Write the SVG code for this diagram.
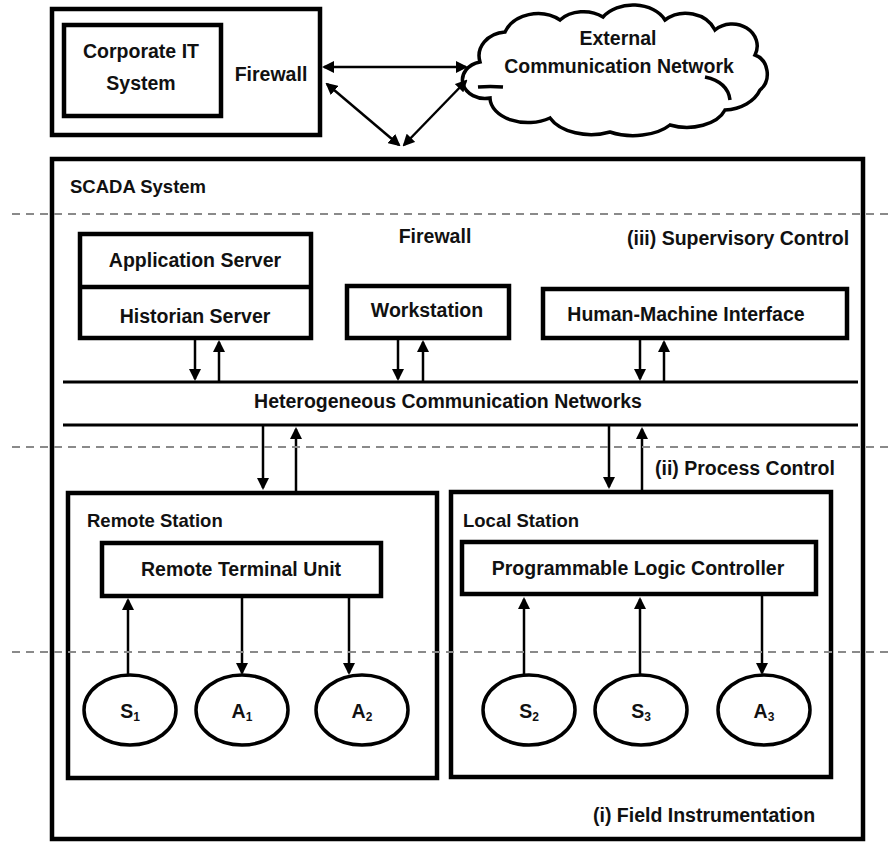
<svg xmlns="http://www.w3.org/2000/svg" width="891" height="843" viewBox="0 0 891 843">
<style>
.box{fill:#fff;stroke:#000;stroke-width:4.5}
.ell{fill:#fff;stroke:#000;stroke-width:3.5}
.ln{stroke:#000;stroke-width:2.5;fill:none}
.bus{stroke:#000;stroke-width:3;fill:none}
.dash{stroke:#8a8a8a;stroke-width:2;stroke-dasharray:8 6;fill:none}
text{font-family:"Liberation Sans",Arial,sans-serif;font-weight:bold;font-size:19.5px;fill:#111}
.c{text-anchor:middle}
</style>
<defs>
<marker id="ah" viewBox="0 0 12 12" refX="10" refY="6" markerWidth="12" markerHeight="12" markerUnits="userSpaceOnUse" orient="auto-start-reverse">
<path d="M0,0 L12,6 L0,12 z" fill="#000"/>
</marker>
</defs>
<rect width="891" height="843" fill="#fff"/>

<g id="corporate">
<rect class="box" x="52" y="9" width="268" height="126" style="fill:none"/>
<rect class="box" x="64" y="25" width="157" height="91"/>
<text class="c" x="141" y="58">Corporate IT</text>
<text class="c" x="141" y="90">System</text>
<text class="c" x="271" y="81">Firewall</text>
</g>

<g id="cloud">
<path d="M480,62 A28,24 0 0 1 505,32 A35,28 0 0 1 560,20 A30,22 0 0 1 603,17 A35,25 0 0 1 665,20 A32,28 0 0 1 715,30 A25,22 0 0 1 755,55 A18,20 0 0 1 760,90 A40,30 0 0 1 725,110 A40,25 0 0 1 670,125 A45,25 0 0 1 610,132 A45,28 0 0 1 550,118 A38,25 0 0 1 490,98 A22,18 0 0 1 480,62 Z" fill="#fff" stroke="#000" stroke-width="3.5"/>
<path d="M478,87 Q490,86 503,87" fill="none" stroke="#000" stroke-width="3.5"/>
<path d="M705,77 Q728,82 730,100" fill="none" stroke="#000" stroke-width="3.5"/>
<text class="c" x="618" y="45">External</text>
<text class="c" x="619" y="73">Communication Network</text>
</g>

<g id="scada">
<rect class="box" x="52" y="159" width="811" height="680" style="fill:none"/>
<text x="70" y="193" style="font-size:18.5px">SCADA System</text>
<text class="c" x="435" y="243">Firewall</text>
<text x="627" y="245">(iii) Supervisory Control</text>
<text x="655" y="475">(ii) Process Control</text>
<text x="593" y="822">(i) Field Instrumentation</text>
</g>

<g id="servers">
<rect class="box" x="80" y="234" width="231" height="104"/>
<line x1="80" y1="287" x2="311" y2="287" stroke="#000" stroke-width="4.5"/>
<text class="c" x="195" y="267">Application Server</text>
<text class="c" x="195" y="323">Historian Server</text>
</g>

<g id="workstation">
<rect class="box" x="347" y="286" width="162" height="52"/>
<text class="c" x="427" y="317">Workstation</text>
</g>

<g id="hmi">
<rect class="box" x="543" y="289" width="304" height="49"/>
<text class="c" x="686" y="321">Human-Machine Interface</text>
</g>

<g id="network">
<line class="bus" x1="63" y1="382" x2="858" y2="382"/>
<line class="bus" x1="63" y1="425" x2="858" y2="425"/>
<text class="c" x="448" y="408">Heterogeneous Communication Networks</text>
</g>

<g id="remote-station">
<rect class="box" x="68" y="493" width="369" height="285"/>
<text x="87" y="527" style="font-size:18.5px">Remote Station</text>
</g>
<g id="rtu">
<rect class="box" x="102" y="543" width="279" height="53"/>
<text class="c" x="241" y="576">Remote Terminal Unit</text>
</g>

<g id="local-station">
<rect class="box" x="451" y="492" width="380" height="285"/>
<text x="463" y="527" style="font-size:18.5px">Local Station</text>
</g>
<g id="plc">
<rect class="box" x="462" y="542" width="354" height="52"/>
<text class="c" x="638" y="575">Programmable Logic Controller</text>
</g>

<g id="s1"><ellipse class="ell" cx="130" cy="710" rx="46" ry="35"/><text class="c" x="130" y="718">S<tspan font-size="12" dy="3">1</tspan></text></g>
<g id="a1"><ellipse class="ell" cx="242" cy="710" rx="46" ry="35"/><text class="c" x="242" y="718">A<tspan font-size="12" dy="3">1</tspan></text></g>
<g id="a2"><ellipse class="ell" cx="362" cy="710" rx="46" ry="35"/><text class="c" x="362" y="718">A<tspan font-size="12" dy="3">2</tspan></text></g>
<g id="s2"><ellipse class="ell" cx="529" cy="710" rx="46" ry="35"/><text class="c" x="529" y="718">S<tspan font-size="12" dy="3">2</tspan></text></g>
<g id="s3"><ellipse class="ell" cx="641" cy="710" rx="46" ry="35"/><text class="c" x="641" y="718">S<tspan font-size="12" dy="3">3</tspan></text></g>
<g id="a3"><ellipse class="ell" cx="764" cy="710" rx="46" ry="35"/><text class="c" x="764" y="718">A<tspan font-size="12" dy="3">3</tspan></text></g>

<g id="connectors">
<line class="ln" x1="324" y1="67" x2="466" y2="67" marker-start="url(#ah)" marker-end="url(#ah)"/>
<line class="ln" x1="327" y1="84" x2="399" y2="145" marker-start="url(#ah)" marker-end="url(#ah)"/>
<line class="ln" x1="404" y1="145" x2="466" y2="81" marker-start="url(#ah)" marker-end="url(#ah)"/>

<line class="ln" x1="195" y1="340" x2="195" y2="379" marker-end="url(#ah)"/>
<line class="ln" x1="219" y1="381" x2="219" y2="342" marker-end="url(#ah)"/>
<line class="ln" x1="398" y1="340" x2="398" y2="379" marker-end="url(#ah)"/>
<line class="ln" x1="423" y1="381" x2="423" y2="342" marker-end="url(#ah)"/>
<line class="ln" x1="640" y1="340" x2="640" y2="379" marker-end="url(#ah)"/>
<line class="ln" x1="664" y1="381" x2="664" y2="342" marker-end="url(#ah)"/>

<line class="ln" x1="263" y1="426" x2="263" y2="488" marker-end="url(#ah)"/>
<line class="ln" x1="296" y1="491" x2="296" y2="429" marker-end="url(#ah)"/>
<line class="ln" x1="609" y1="426" x2="609" y2="487" marker-end="url(#ah)"/>
<line class="ln" x1="642" y1="490" x2="642" y2="429" marker-end="url(#ah)"/>

<line class="ln" x1="128" y1="675" x2="128" y2="600" marker-end="url(#ah)"/>
<line class="ln" x1="242" y1="598" x2="242" y2="673" marker-end="url(#ah)"/>
<line class="ln" x1="349" y1="598" x2="349" y2="673" marker-end="url(#ah)"/>
<line class="ln" x1="524" y1="675" x2="524" y2="599" marker-end="url(#ah)"/>
<line class="ln" x1="640" y1="675" x2="640" y2="599" marker-end="url(#ah)"/>
<line class="ln" x1="762" y1="596" x2="762" y2="673" marker-end="url(#ah)"/>
</g>

<g id="dashes">
<line class="dash" x1="12" y1="214" x2="891" y2="214"/>
<line class="dash" x1="12" y1="447" x2="891" y2="447"/>
<line class="dash" x1="12" y1="652" x2="891" y2="652"/>
</g>
</svg>
